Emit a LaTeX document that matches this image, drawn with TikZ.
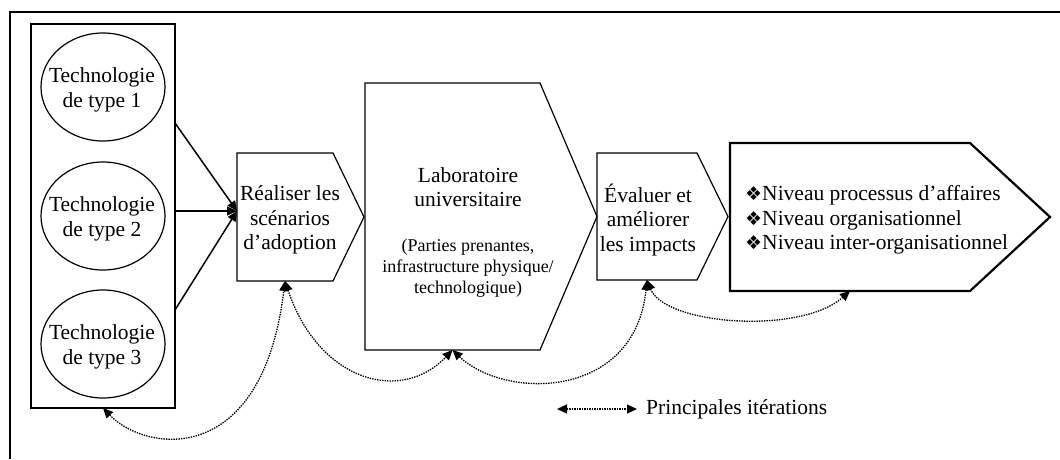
\documentclass[tikz,border=0pt]{standalone}
\usepackage{fontspec}
\setmainfont{Liberation Serif}
\newfontfamily\symfont{DejaVu Sans}
\usetikzlibrary{arrows.meta,calc,shapes.geometric}

\begin{document}
\begin{tikzpicture}[x=1pt,y=-1pt,
  txt/.style={font=\fontsize{21.5}{24.5}\selectfont, align=center, inner sep=0pt},
  small/.style={font=\fontsize{18}{21}\selectfont, align=center, inner sep=0pt},
  outline/.style={draw, line width=1.2pt, line join=miter},
  bold outline/.style={draw, line width=2.2pt, line join=miter},
  area/.style={inner sep=0pt, outer sep=0pt},
  techellipse/.style={ellipse, draw, line width=1.2pt, minimum width=124pt, minimum height=108pt, inner sep=0pt},
  feed/.style={line width=1.5pt, -{Triangle[length=10pt,width=9pt]}},
  iter/.style={line width=1.3pt, dash pattern=on 1.4pt off 1.1pt,
    {Triangle[length=10pt,width=9pt]}-{Triangle[length=10pt,width=9pt]}},
]
\useasboundingbox (0,0) rectangle (1060,459);

% frame (top and left edges)
\draw[line width=2.5pt] (10,459) -- (10,12) -- (1060,12);

% technology container and its three ellipses
\node[area, draw, line width=1.2pt, minimum width=144pt, minimum height=384pt] (tech) at (103,216) {};
\node[techellipse] (e1) at (103,87) {};
\node[techellipse] (e2) at (103,216) {};
\node[techellipse] (e3) at (103,344) {};
\node[txt] (e1t) at (102,90) {Technologie\\de type 1};
\node[txt] (e2t) at (102,219) {Technologie\\de type 2};
\node[txt] (e3t) at (102,347) {Technologie\\de type 3};

% process stages (rectangular bodies, outlines drawn with a pointed right side)
\node[area, minimum width=96pt, minimum height=128pt] (real) at (285,217) {};
\node[area, minimum width=175pt, minimum height=267pt] (lab) at (452.5,216.5) {};
\node[area, minimum width=100pt, minimum height=127pt] (eval) at (647,216.5) {};
\node[area, minimum width=240pt, minimum height=148pt] (niv) at (850,217) {};

\draw[outline] (real.north west) -- (real.north east) -- ($(real.east)+(31,0)$) -- (real.south east) -- (real.south west) -- cycle;
\draw[outline] (lab.north west) -- (lab.north east) -- ($(lab.east)+(57,0)$) -- (lab.south east) -- (lab.south west) -- cycle;
\draw[outline] (eval.north west) -- (eval.north east) -- ($(eval.east)+(31,0)$) -- (eval.south east) -- (eval.south west) -- cycle;
\draw[bold outline] (niv.north west) -- (niv.north east) -- ($(niv.east)+(80,0)$) -- (niv.south east) -- (niv.south west) -- cycle;

\node[txt] (realt) at (290,220) {Réaliser les\\scénarios\\d’adoption};
\node[txt] (labt) at (468,187) {Laboratoire\\universitaire};
\node[small] (labn) at (468,268) {(Parties prenantes,\\infrastructure physique/\\technologique)};
\node[txt] (evalt) at (648,220) {Évaluer et\\améliorer\\les impacts};
\node[txt, align=left, anchor=west] (nivt) at (745,220) {%
  {\symfont\fontsize{19}{19}\selectfont ❖}Niveau processus d’affaires\\
  {\symfont\fontsize{19}{19}\selectfont ❖}Niveau organisationnel\\
  {\symfont\fontsize{19}{19}\selectfont ❖}Niveau inter-organisationnel};

% technologies feeding the adoption scenarios
\coordinate (t1) at ($(tech.north east)+(0,99)$);
\coordinate (t2) at ($(tech.north east)+(0,187)$);
\coordinate (t3) at ($(tech.north east)+(0,286)$);
\coordinate (rin) at ($(real.west)+(0,-6)$);
\draw[feed] (t1) -- (rin);
\draw[feed] (t2) -- (rin);
\draw[feed] (t3) -- (rin);

% main iterations
\draw[iter] (tech.south) .. controls (145,452) and (262,470) .. (real.south);
\draw[iter] (real.south) .. controls (318,380) and (400,405) .. (lab.south);
\draw[iter] (lab.south) .. controls (505,400) and (635,400) .. (eval.south);
\draw[iter] (eval.south) .. controls (665,325) and (800,335) .. (niv.south);

% legend
\coordinate (la) at (557,409);
\coordinate (lb) at (637,409);
\draw[iter] (la) -- (lb);
\node[txt, anchor=west] (legt) at (646,409) {Principales itérations};
\end{tikzpicture}
\end{document}
